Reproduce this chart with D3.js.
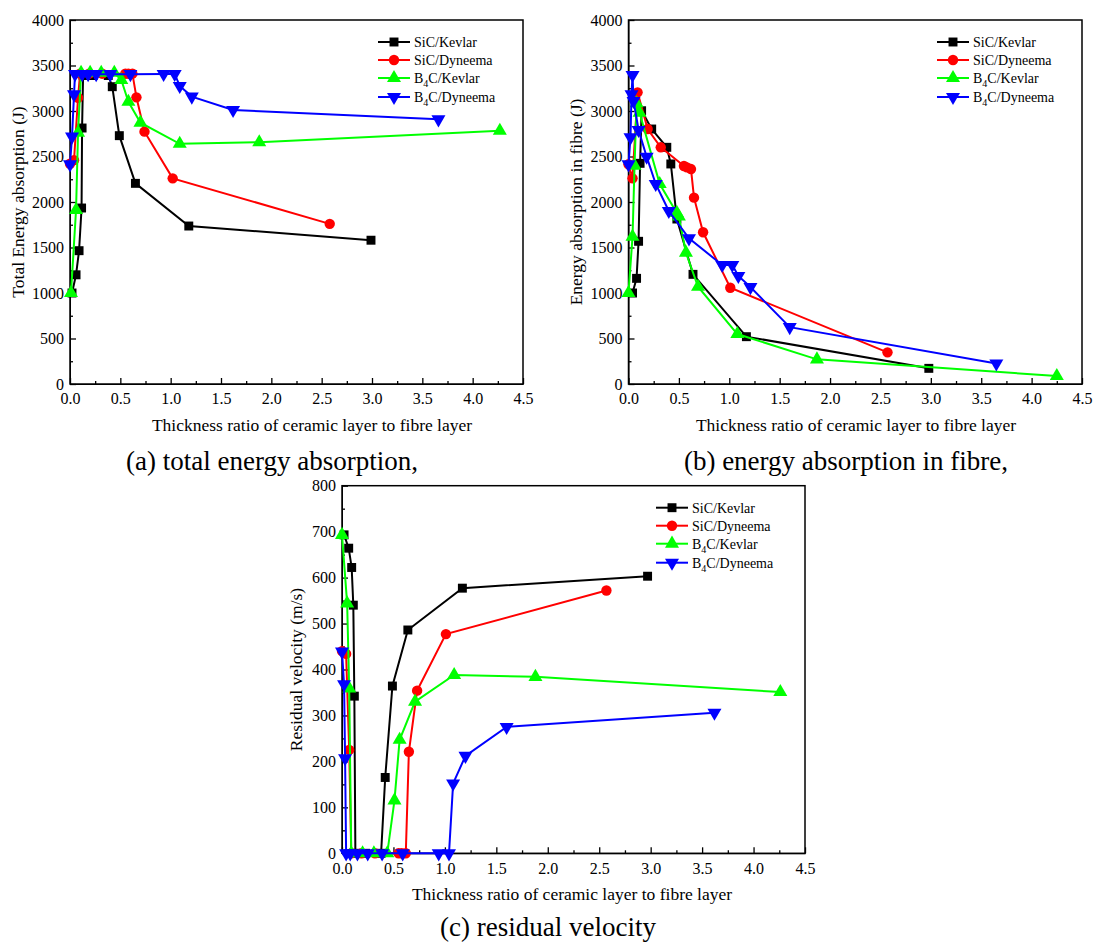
<!DOCTYPE html>
<html>
<head>
<meta charset="utf-8">
<script src="https://cdn.jsdelivr.net/npm/d3@7"></script>
<style>
body { margin: 0; background: #fff; }
</style>
</head>
<body>
<svg id="chart" width="1094" height="943" font-family="Liberation Serif, DejaVu Serif, serif"></svg>
<script>
// series labels / colours
var seriesNames = ["SiC/Kevlar", "SiC/Dyneema", "B4C/Kevlar", "B4C/Dyneema"];
var seriesColors = ["#000000", "#ff0000", "#00ff00", "#0000ff"];
var xTicks = [0, 0.5, 1, 1.5, 2, 2.5, 3, 3.5, 4, 4.5];

// (a) total energy absorption (J)
var totalSiCKevlar = [[0.02,1000],[0.06,1200],[0.09,1465],[0.115,1934],[0.12,2813],[0.13,3390],[0.23,3390],[0.38,3390],[0.42,3267],[0.49,2729],[0.65,2205],[1.18,1736],[2.99,1580]];
var totalSiCDyneema = [[0,2420],[0.04,2460],[0.08,3146],[0.10,3410],[0.19,3410],[0.32,3410],[0.55,3410],[0.58,3410],[0.62,3410],[0.66,3150],[0.74,2773],[1.02,2260],[2.58,1760]];
var totalB4CKevlar = [[0.01,1000],[0.06,1912],[0.08,2762],[0.11,3420],[0.20,3420],[0.31,3420],[0.44,3420],[0.51,3340],[0.58,3102],[0.70,2872],[1.09,2640],[1.88,2656],[4.27,2783]];
var totalB4CDyneema = [[0,2414],[0.02,2718],[0.04,3183],[0.05,3405],[0.12,3405],[0.18,3405],[0.26,3405],[0.40,3405],[0.60,3405],[0.93,3407],[1.04,3407],[1.09,3275],[1.21,3158],[1.62,3011],[3.66,2908]];

// (b) energy absorption in fibre (J)
var fibreSiCKevlar = [[0.04,1000],[0.08,1161],[0.10,1568],[0.115,2425],[0.13,3003],[0.23,2802],[0.38,2601],[0.42,2418],[0.48,1813],[0.64,1205],[1.17,520],[2.98,172]];
var fibreSiCDyneema = [[0,2414],[0.04,2260],[0.09,3205],[0.19,2802],[0.32,2601],[0.55,2396],[0.58,2381],[0.62,2362],[0.65,2048],[0.74,1667],[1.01,1058],[2.57,348]];
var fibreB4CKevlar = [[0,1000],[0.04,1619],[0.06,2399],[0.08,3085],[0.11,2980],[0.31,2198],[0.48,1880],[0.50,1840],[0.57,1443],[0.69,1069],[1.08,549],[1.87,271],[4.25,88]];
var fibreB4CDyneema = [[0,2414],[0.02,2711],[0.03,3183],[0.04,3396],[0.05,3110],[0.10,2791],[0.18,2498],[0.27,2198],[0.40,1901],[0.60,1601],[0.93,1308],[1.03,1308],[1.09,1187],[1.21,1065],[1.60,625],[3.65,225]];

// (c) residual velocity (m/s)
var velSiCKevlar = [[0.02,693],[0.065,664],[0.094,622],[0.11,540],[0.12,342],[0.13,0],[0.23,0],[0.38,0],[0.42,165],[0.49,364],[0.64,486],[1.17,577],[2.97,603]];
var velSiCDyneema = [[0,440],[0.04,434],[0.07,225],[0.09,0],[0.19,0],[0.32,0],[0.55,0],[0.58,0],[0.62,0],[0.65,221],[0.73,354],[1.01,477],[2.57,572]];
var velB4CKevlar = [[0,693],[0.05,544],[0.07,359],[0.09,0],[0.20,0],[0.31,0],[0.44,0],[0.51,115],[0.56,247],[0.71,330],[1.09,388],[1.88,384],[4.26,351]];
var velB4CDyneema = [[0,439],[0.02,368],[0.03,207],[0.04,0],[0.08,0],[0.15,0],[0.25,0],[0.39,0],[0.59,0],[0.94,0],[1.04,0],[1.08,152],[1.20,212],[1.60,275],[3.62,306]];

var svg = d3.select("#chart");
var FONT = "Liberation Serif, DejaVu Serif, serif";

function marker(i) {
    var types = [d3.symbolSquare, d3.symbolCircle, d3.symbolTriangle, d3.symbolTriangle];
    var sizes = [80, 85, 85, 85];
    return d3.symbol().type(types[i]).size(sizes[i]);
}

function drawPanel(p) {
    var g = svg.append("g");
    var x = d3.scaleLinear().domain([0, 4.5]).range([p.left, p.right]);
    var y = d3.scaleLinear().domain([0, p.ymax]).range([p.bottom, p.top]);

    // minor ticks
    g.append("g")
        .attr("transform", "translate(0," + p.bottom + ")")
        .call(d3.axisBottom(x).tickValues(d3.range(0.25, 4.5, 0.5)).tickSizeInner(-3).tickSizeOuter(0).tickFormat(""))
        .call(function(s) { s.select(".domain").remove(); });
    g.append("g")
        .attr("transform", "translate(" + p.left + ",0)")
        .call(d3.axisLeft(y).tickValues(d3.range(p.ystep / 2, p.ymax, p.ystep)).tickSizeInner(-3).tickSizeOuter(0).tickFormat(""))
        .call(function(s) { s.select(".domain").remove(); });

    var xa = g.append("g")
        .attr("transform", "translate(0," + p.bottom + ")")
        .call(d3.axisBottom(x).tickValues(xTicks).tickSizeInner(-6).tickSizeOuter(0).tickPadding(9).tickFormat(d3.format(".1f")));
    var ya = g.append("g")
        .attr("transform", "translate(" + p.left + ",0)")
        .call(d3.axisLeft(y).tickValues(d3.range(0, p.ymax + 1, p.ystep)).tickSizeInner(-6).tickSizeOuter(0).tickPadding(6).tickFormat(d3.format("d")));
    [xa, ya].forEach(function(a) {
        a.attr("font-family", FONT).attr("font-size", 16);
    });
    g.selectAll(".tick line").attr("stroke", "#000").attr("stroke-width", 1.3);

    // frame
    g.append("rect")
        .attr("x", p.left).attr("y", p.top)
        .attr("width", p.right - p.left).attr("height", p.bottom - p.top)
        .attr("fill", "none").attr("stroke", "#000").attr("stroke-width", 1.5);

    var line = d3.line()
        .x(function(d) { return x(d[0]); })
        .y(function(d) { return y(d[1]); });

    p.series.forEach(function(data, i) {
        g.append("path")
            .datum(data)
            .attr("fill", "none")
            .attr("stroke", seriesColors[i])
            .attr("stroke-width", 2)
            .attr("d", line);
        g.selectAll(".m" + i)
            .data(data)
            .enter().append("path")
            .attr("class", "m" + i)
            .attr("d", marker(i))
            .attr("fill", seriesColors[i])
            .attr("transform", function(d) {
                return "translate(" + x(d[0]) + "," + y(d[1]) + ")" + (i == 3 ? " rotate(180)" : "");
            });
    });

    // legend
    var rows = [22, 40, 58, 77];
    seriesNames.forEach(function(name, i) {
        var ly = p.top + rows[i];
        g.append("line")
            .attr("x1", p.legX).attr("x2", p.legX + 32)
            .attr("y1", ly).attr("y2", ly)
            .attr("stroke", seriesColors[i]).attr("stroke-width", 2);
        g.append("path")
            .attr("d", marker(i))
            .attr("fill", seriesColors[i])
            .attr("transform", "translate(" + (p.legX + 16) + "," + ly + ")" + (i == 3 ? " rotate(180)" : ""));
        var t = g.append("text")
            .attr("x", p.legX + 36).attr("y", ly)
            .attr("dy", "0.35em")
            .attr("font-size", 14);
        if (name.indexOf("B4C") == 0) {
            t.append("tspan").text("B");
            t.append("tspan").attr("font-size", 10).attr("dy", 4).text("4");
            t.append("tspan").attr("dy", -4).text(name.slice(2));
        } else {
            t.text(name);
        }
    });

    // axis titles
    g.append("text")
        .attr("x", p.xTitleX).attr("y", p.bottom + 47)
        .attr("text-anchor", "middle")
        .attr("font-size", 17.5)
        .text("Thickness ratio of ceramic layer to fibre layer");
    g.append("text")
        .attr("transform", "translate(" + p.yTitleX + "," + ((p.top + p.bottom) / 2) + ") rotate(-90)")
        .attr("text-anchor", "middle")
        .attr("font-size", 17.5)
        .text(p.yTitle);

    g.append("text")
        .attr("x", p.capX).attr("y", p.capY)
        .attr("text-anchor", "middle")
        .attr("font-size", 27)
        .text(p.caption);
}

drawPanel({
    left: 70, right: 523, top: 20, bottom: 384, ymax: 4000, ystep: 500,
    series: [totalSiCKevlar, totalSiCDyneema, totalB4CKevlar, totalB4CDyneema],
    legX: 378, xTitleX: 312, yTitleX: 24, yTitle: "Total Energy absorption (J)",
    caption: "(a) total energy absorption,", capX: 272, capY: 470
});
drawPanel({
    left: 628.5, right: 1082, top: 20, bottom: 384, ymax: 4000, ystep: 500,
    series: [fibreSiCKevlar, fibreSiCDyneema, fibreB4CKevlar, fibreB4CDyneema],
    legX: 937, xTitleX: 856, yTitleX: 582, yTitle: "Energy absorption in fibre (J)",
    caption: "(b) energy absorption in fibre,", capX: 846, capY: 470
});
drawPanel({
    left: 342, right: 805, top: 485.7, bottom: 853.3, ymax: 800, ystep: 100,
    series: [velSiCKevlar, velSiCDyneema, velB4CKevlar, velB4CDyneema],
    legX: 656, xTitleX: 572, yTitleX: 302, yTitle: "Residual velocity (m/s)",
    caption: "(c) residual velocity", capX: 548, capY: 936
});
</script>
</body>
</html>
